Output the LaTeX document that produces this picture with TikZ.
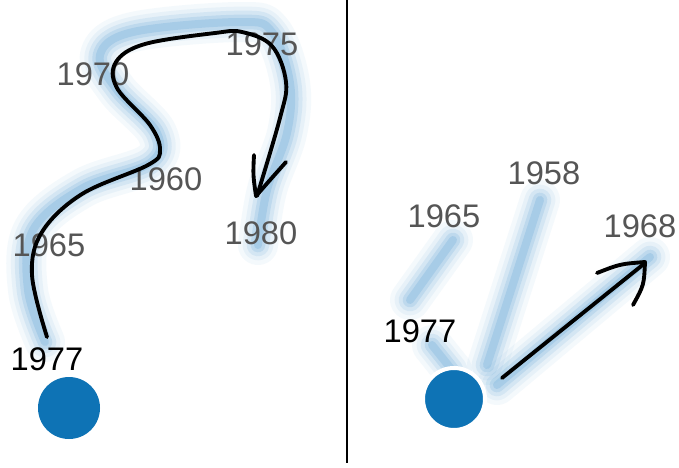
\documentclass[tikz,border=0pt]{standalone}
\usepackage{fontspec}
\setmainfont{Liberation Sans}
\definecolor{dotblue}{HTML}{0E73B5}
\definecolor{glow}{HTML}{4F9AD2}
\definecolor{lab}{HTML}{555555}
\tikzset{
  glowa/.style={draw=glow, line width=30pt, opacity=0.06, line cap=round, line join=round},
  glowb/.style={draw=glow, line width=23pt, opacity=0.08, line cap=round, line join=round},
  glowc/.style={draw=glow, line width=17pt, opacity=0.12, line cap=round, line join=round},
  glowd/.style={draw=glow, line width=11pt, opacity=0.16, line cap=round, line join=round},
  glowe/.style={draw=glow, line width=6pt, opacity=0.2, line cap=round, line join=round},
  ink/.style={draw=black, line width=2.9pt, line cap=round, line join=round},
  yr/.style={text=lab, font=\fontsize{24.5}{24.5}\selectfont, inner sep=0pt},
  yrk/.style={text=black, font=\fontsize{24.5}{24.5}\selectfont, inner sep=0pt},
  bigdot/.style={circle, fill=dotblue, minimum size=46.5pt, inner sep=0pt},
}
\newcommand{\glowpath}[1]{%
  \foreach \s in {glowa,glowb,glowc,glowd,glowe}{\draw[\s] #1;}}
\begin{document}
\begin{tikzpicture}[x=0.75pt,y=-0.75pt]
\useasboundingbox (0,0) rectangle (679,468);
\fill[white] (0,0) rectangle (679,468);
% left glow
\glowpath{plot[smooth, tension=0.6] coordinates {(45,342) (28,290) (33,230) (83,188) (150,163) (157,133) (117,90) (100,55) (133,32) (240,22) (272,32) (290,83) (287,133) (267,190) (258,245)}}
% right glows
\glowpath{(540,200) -- (487,365)}
\begin{scope}[opacity=0.6]
\glowpath{(453,240) -- (410,300)}
\end{scope}
\glowpath{(432,345) -- (452,370)}
\glowpath{(497,385) -- (650,257)}
% separator
\draw[line width=1.6pt] (347,0) -- (347,463);
% left labels
\node[yr] (l1975) at (262,44) {1975};
\node[yr] (l1970) at (93,74) {1970};
\node[yr] (l1960) at (166,179) {1960};
\node[yr] (l1965) at (49,245) {1965};
\node[yr] (l1980) at (261,233) {1980};
\node[yrk] (l1977) at (47,359) {1977};
\node[bigdot] (ldot) at (69,408) {};
% left curve
\draw[ink] plot[smooth, tension=0.6] coordinates {(47,337) (32,275) (42,232) (82,194) (148,165) (160,150) (150,125) (117,88) (116,62) (145,44) (215,33) (242,32) (272,46) (286,82) (280,118) (257,196)};
\draw[ink] (254,155) .. controls (253,175) .. (256,196) .. controls (270,180) .. (286,162);
% right labels
\node[yr] (r1958) at (544,173) {1958};
\node[yr] (r1965) at (444,216) {1965};
\node[yr] (r1968) at (640,226) {1968};
\node[yrk] (r1977) at (420,331) {1977};
\node[bigdot, draw=white, line width=3pt] (rdot) at (454,399) {};
\coordinate (as) at (502,378);
\coordinate (at) at (645,263);
\draw[ink] (as) -- (at);
\draw[ink] (597,273) .. controls (620,264) .. (645,262) .. controls (644,285) .. (633,305);
\end{tikzpicture}
\end{document}
